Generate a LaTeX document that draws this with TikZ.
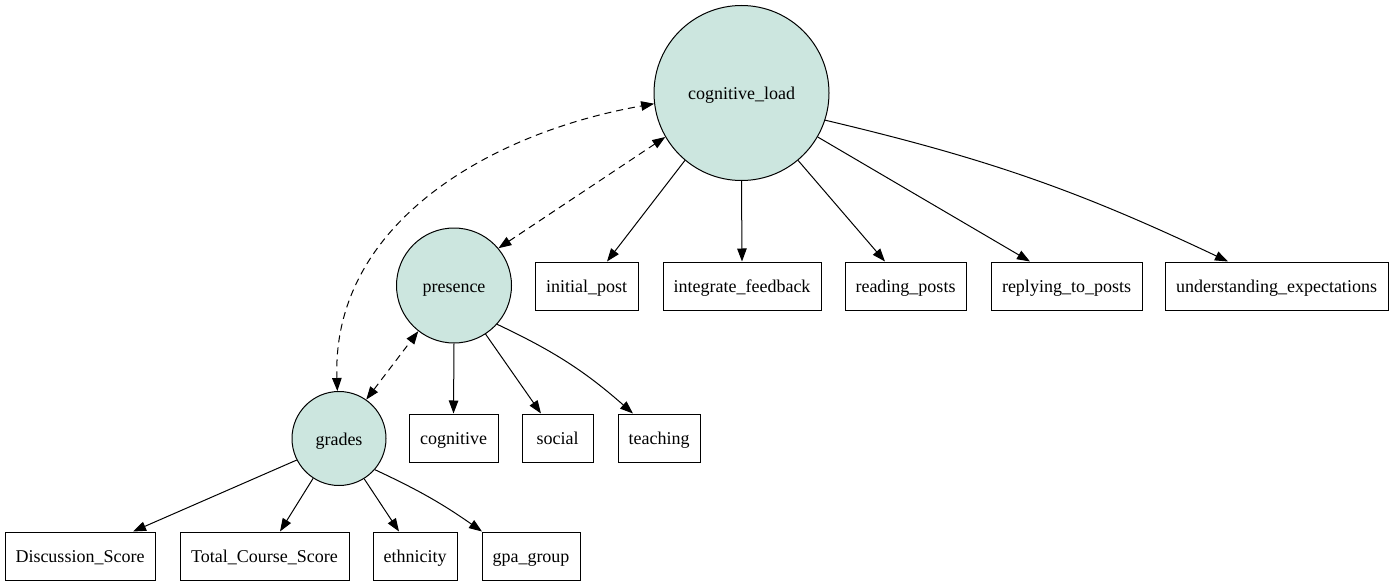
\documentclass[tikz,border=0pt]{standalone}
\usepackage{fontspec}
\setmainfont{Liberation Serif}
\usetikzlibrary{arrows.meta}
\definecolor{latfill}{RGB}{204,230,223}
\begin{document}
\begin{tikzpicture}[x=1pt,y=1pt,
  font=\fontsize{18}{20}\selectfont,
  every node/.style={text height=13.5pt,text depth=0pt},
  latent/.style={circle,draw=black,line width=1pt,fill=latfill,inner sep=0pt},
  obs/.style={rectangle,draw=black,line width=1pt,inner sep=0pt,minimum height=48pt},
  edge/.style={line width=1pt,-{Triangle[length=13pt,width=9.5pt]}},
  cov/.style={line width=1pt,dash pattern=on 7pt off 5pt,{Triangle[length=13pt,width=9.5pt]}-{Triangle[length=13pt,width=9.5pt]}}]
\useasboundingbox (0,0) rectangle (1393,-586);
% latent
\node[latent,minimum size=175pt] (cl) at (741.5,-93) {cognitive\_load};
\node[latent,minimum size=115pt] (pr) at (454,-285.5) {presence};
\node[latent,minimum size=94pt] (gr) at (339,-438.5) {grades};
% top row
\node[obs,minimum width=103pt] (ip) at (586.5,-286) {initial\_post};
\node[obs,minimum width=158pt] (if) at (742,-286) {integrate\_feedback};
\node[obs,minimum width=121pt] (rp) at (905.5,-286) {reading\_posts};
\node[obs,minimum width=151pt] (rtp) at (1066.5,-286) {replying\_to\_posts};
\node[obs,minimum width=223pt] (ue) at (1276.5,-286) {understanding\_expectations};
% middle row
\node[obs,minimum width=89pt] (cg) at (453.5,-438) {cognitive};
\node[obs,minimum width=71pt] (so) at (557.5,-438) {social};
\node[obs,minimum width=82pt] (te) at (659,-438) {teaching};
% bottom row
\node[obs,minimum width=150pt] (ds) at (80,-556) {Discussion\_Score};
\node[obs,minimum width=169pt] (tcs) at (264.5,-556) {Total\_Course\_Score};
\node[obs,minimum width=84pt] (et) at (415,-556) {ethnicity};
\node[obs,minimum width=98pt] (gg) at (531,-556) {gpa\_group};
% cognitive_load edges
\draw[edge] (cl.230.4) -- ([xshift=20.5pt]ip.north);
\draw[edge] (cl.south) -- (if.north);
\draw[edge] (cl.310) -- ([xshift=-20.5pt]rp.north);
\draw[edge] (cl.330.7) -- ([xshift=-36.5pt]rtp.north);
\draw[edge] (cl.342.9) to[bend left=6] ([xshift=-48.5pt]ue.north);
% presence edges
\draw[edge] (pr.south) -- (cg.north);
\draw[edge] (pr.303.7) -- ([xshift=-16.5pt]so.north);
\draw[edge] (pr.318.9) to[bend left=8] ([xshift=-26pt]te.north);
% grades edges
\draw[edge] (gr.207.1) -- ([xshift=53pt]ds.north);
\draw[edge] (gr.237.3) -- ([xshift=15.5pt]tcs.north);
\draw[edge] (gr.302.3) -- ([xshift=-16pt]et.north);
\draw[edge] (gr.319.7) to[bend left=5] ([xshift=-49pt]gg.north);
% covariances
\draw[cov] (pr.40.6) -- (cl.210.5);
\draw[cov] (gr.55) -- (pr.232.8);
\draw[cov] (gr.92) to[out=92,in=190] (cl.187);
\end{tikzpicture}
\end{document}
